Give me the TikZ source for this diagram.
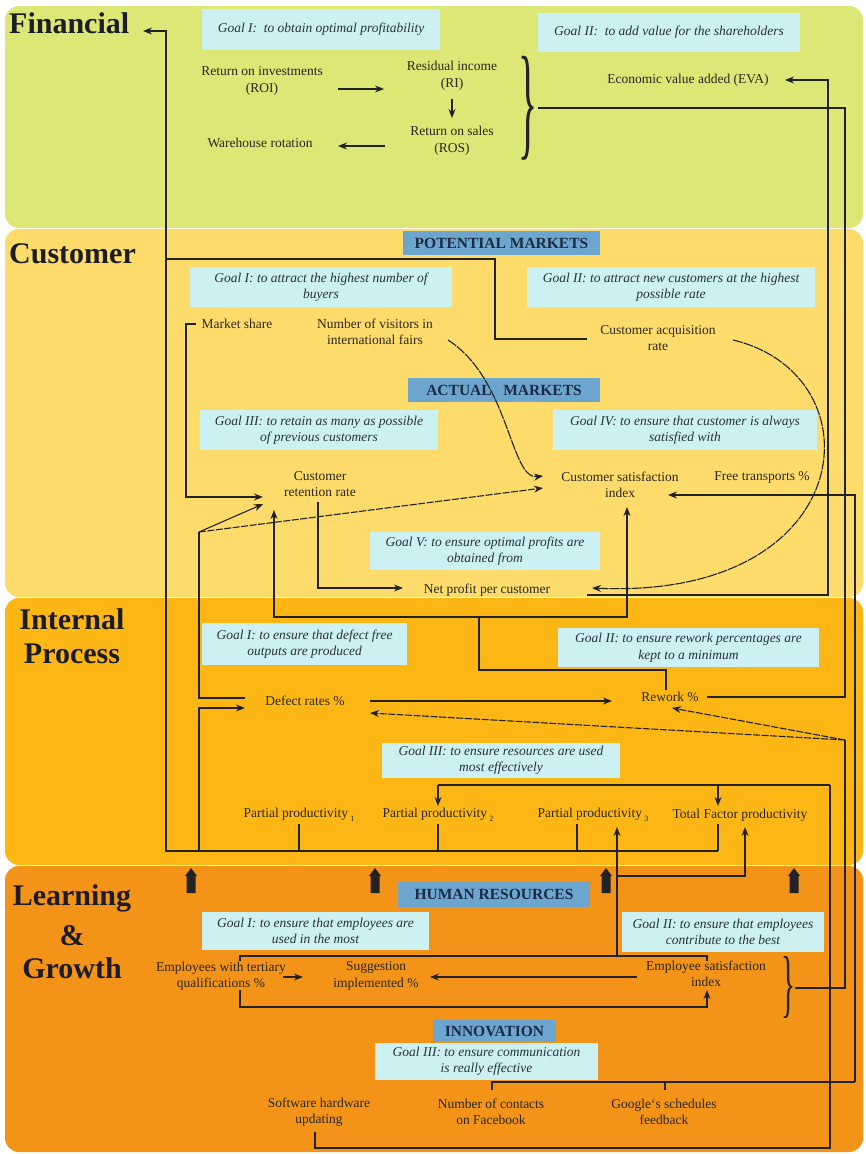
\documentclass[tikz,border=0pt]{standalone}
\usepackage{fontspec}
\usepackage{graphicx}
\setmainfont{Liberation Serif}
\usetikzlibrary{arrows.meta}
\definecolor{finc}{HTML}{DCE775}
\definecolor{custc}{HTML}{FDDC6B}
\definecolor{intc}{HTML}{FDB714}
\definecolor{learnc}{HTML}{F39419}
\definecolor{goalc}{HTML}{CDF0F2}
\definecolor{goaltc}{HTML}{26323A}
\definecolor{bandc}{HTML}{6CA6CF}
\definecolor{bandtc}{HTML}{1D2B42}
\definecolor{linec}{HTML}{222222}
\definecolor{txtc}{HTML}{2A2620}
\definecolor{ttlc}{HTML}{1C1C24}
\begin{document}
\begin{tikzpicture}[x=1pt,y=-1pt,
  lbl/.style={font=\fontsize{13.5}{16.5}\selectfont, text=txtc, align=center, inner sep=0pt},
  goal/.style={fill=goalc, font=\fontsize{13.5}{16.5}\selectfont\itshape, text=goaltc, align=center, inner sep=0pt},
  band/.style={fill=bandc, font=\fontsize{15.5}{18}\selectfont\bfseries, text=bandtc, inner sep=0pt},
  ttl/.style={font=\fontsize{30}{34}\selectfont\bfseries, text=ttlc, inner sep=0pt},
  ln/.style={draw=linec, line width=1.1pt},
  arr/.style={ln, -{Stealth[length=9pt,width=7pt]}},
  dsh/.style={arr, dash pattern=on 7pt off 1.5pt},
  crv/.style={arr, dash pattern=on 10pt off 1pt},
  brcglyph/.style={text=linec, inner sep=0pt},
  upblock/.pic={\fill[linec] (-4.5,25) -- (-4.5,8) -- (-6,8) -- (0,0) -- (6,8) -- (4.5,8) -- (4.5,25) -- cycle;}
]
\useasboundingbox (0,0) rectangle (865,1154);
\fill[white] (0,0) rectangle (865,1154);

% ---- perspective panels
\fill[finc, rounded corners=14pt] (5,6) rectangle (863,228);
\fill[custc, rounded corners=14pt] (5,229) rectangle (863,597);
\fill[intc, rounded corners=14pt] (5,598) rectangle (863,865);
\fill[learnc, rounded corners=14pt] (5,866) rectangle (863,1152);

% ---- panel titles
\node[ttl, anchor=base west] (tfin) at (9,33) {Financial};
\node[ttl, anchor=base west] (tcus) at (9,263) {Customer};
\node[ttl, anchor=base] (tint1) at (72,629) {Internal};
\node[ttl, anchor=base] (tint2) at (72,663) {Process};
\node[ttl, anchor=base] (tlg1) at (72,905) {Learning};
\node[ttl, anchor=base] (tlg2) at (72,945) {\&};
\node[ttl, anchor=base] (tlg3) at (72,978) {Growth};

% ---- goal boxes and section bands
\node[goal, minimum width=238pt, minimum height=41pt] (fg1) at (321,29.5) {Goal I:\ \ to obtain optimal profitability};
\node[goal, minimum width=262pt, minimum height=39pt] (fg2) at (669,32.5) {Goal II:\ \ to add value for the shareholders};

\node[band, minimum width=197pt, minimum height=24pt] (potm) at (501.5,243) {POTENTIAL MARKETS};
\node[goal, minimum width=262pt, minimum height=40pt] (cg1) at (321,287) {Goal I: to attract the highest number of\\buyers};
\node[goal, minimum width=288pt, minimum height=40pt] (cg2) at (671,287) {Goal II: to attract new customers at the highest\\possible rate};
\node[band, minimum width=192pt, minimum height=24pt] (actm) at (504,390) {ACTUAL\ \ \ MARKETS};
\node[goal, minimum width=238pt, minimum height=40pt] (cg3) at (319,430) {Goal III: to retain as many as possible\\of previous customers};
\node[goal, minimum width=264pt, minimum height=40pt] (cg4) at (685,430) {Goal IV: to ensure that customer is always\\satisfied with};
\node[goal, minimum width=230pt, minimum height=38pt] (cg5) at (485,551) {Goal V: to ensure optimal profits are\\obtained from};

\node[goal, minimum width=205pt, minimum height=42pt] (ig1) at (304.5,644) {Goal I: to ensure that defect free\\outputs are produced};
\node[goal, minimum width=261pt, minimum height=39pt] (ig2) at (688.5,647.5) {Goal II: to ensure rework percentages are\\kept to a minimum};
\node[goal, minimum width=238pt, minimum height=35pt] (ig3) at (501,760.5) {Goal III: to ensure resources are used\\most effectively};

\node[band, minimum width=192pt, minimum height=25pt] (hres) at (494,894.5) {HUMAN RESOURCES};
\node[goal, minimum width=227pt, minimum height=38pt] (lg1) at (315.5,931) {Goal I: to ensure that employees are\\used in the most};
\node[goal, minimum width=202pt, minimum height=40pt] (lg2) at (723,932) {Goal II: to ensure that employees\\contribute to the best};
\node[band, minimum width=123pt, minimum height=22pt] (innov) at (494.5,1031) {INNOVATION};
\node[goal, minimum width=223pt, minimum height=37pt] (lg3) at (486.5,1061.5) {Goal III: to ensure communication\\is really effective};

% ---- measures
\node[lbl] (roi) at (262,81) {Return on investments\\(ROI)};
\node[lbl] (ri) at (452,76) {Residual income\\(RI)};
\node[lbl] (ros) at (452,141) {Return on sales\\(ROS)};
\node[lbl] (wh) at (260,143) {Warehouse rotation};
\node[lbl] (eva) at (688,80) {Economic value added (EVA)};

\node[lbl] (msh) at (237,324) {Market share};
\node[lbl] (nvis) at (375,332) {Number of visitors in\\international fairs};
\node[lbl] (cacq) at (658,338) {Customer acquisition\\rate};
\node[lbl] (cret) at (320,484) {Customer\\retention rate};
\node[lbl] (csat) at (620,485) {Customer satisfaction\\index};
\node[lbl] (ftr) at (762,477) {Free transports \%};
\node[lbl] (npc) at (487,590) {Net profit per customer};

\node[lbl] (dr) at (305,701) {Defect rates \%};
\node[lbl] (rw) at (670,697) {Rework \%};
\node[lbl] (pp1) at (299,815) {Partial productivity\,\raisebox{-4pt}{\fontsize{8}{8}\selectfont 1}};
\node[lbl] (pp2) at (438,815) {Partial productivity\,\raisebox{-4pt}{\fontsize{8}{8}\selectfont 2}};
\node[lbl] (pp3) at (593,815) {Partial productivity\,\raisebox{-4pt}{\fontsize{8}{8}\selectfont 3}};
\node[lbl] (tfp) at (740,815) {Total Factor productivity};

\node[lbl] (ete) at (221,976) {Employees with tertiary\\qualifications \%};
\node[lbl] (sug) at (376,976) {Suggestion\\implemented \%};
\node[lbl] (esi) at (706,974) {Employee satisfaction\\index};
\node[lbl] (shu) at (319,1112) {Software hardware\\updating};
\node[lbl] (nfb) at (491,1112) {Number of contacts\\on Facebook};
\node[lbl] (ggl) at (664,1112) {Google`s schedules\\feedback};

% ---- grouping braces
\node[brcglyph] (fbrace) at (528,108) {\resizebox*{19pt}{104pt}{\}}};
\node[brcglyph] (ebrace) at (788,988) {\resizebox*{14pt}{62pt}{\}}};

% ---- connector end points
\coordinate (finIn) at (143,31);
\coordinate (busR) at (718,851);
\coordinate (roiR) at (338,89);  \coordinate (riL) at (384,89);
\coordinate (riB) at (452,99);   \coordinate (rosT) at (452,118);
\coordinate (rosL) at (385,146); \coordinate (whR) at (338,146);
\coordinate (fbrTip) at (fbrace.east);
\coordinate (rwR) at (707,697);
\coordinate (npcR) at (587,595); \coordinate (evaR) at (785,80);
\coordinate (cacqL) at (587,339);
\coordinate (mshL) at (196,324); \coordinate (cretL) at (263,497);
\coordinate (cretLu) at (263,504);
\coordinate (nvisR) at (448,340); \coordinate (csatL) at (543,476);
\coordinate (csatLd) at (543,488);
\coordinate (cacqR) at (733,340); \coordinate (npcRa) at (592,588);
\coordinate (cretB) at (318,502); \coordinate (npcL) at (403,588);
\coordinate (fork) at (199,532);
\coordinate (drL) at (245,698);  \coordinate (drLb) at (245,708);
\coordinate (csatR) at (668,495);
\coordinate (rwT) at (666,690);
\coordinate (cretU) at (274,510); \coordinate (csatU) at (627,507);
\coordinate (drR) at (370,701);  \coordinate (rwL) at (612,701);
\coordinate (dj) at (845,740);
\coordinate (rwLd) at (672,708); \coordinate (drRd) at (370,713);
\coordinate (ebrTip) at (ebrace.east);
\coordinate (shuB) at (315,1132);
\coordinate (pp2T) at (438,806); \coordinate (tfpT) at (718,806);
\coordinate (pp3B) at (617,827); \coordinate (tfpB) at (745,827);
\coordinate (eteT) at (240,961); \coordinate (esiT) at (707,961);
\coordinate (eteR) at (283,977); \coordinate (sugL0) at (303,977);
\coordinate (esiL) at (637,977); \coordinate (sugR) at (430,977);
\coordinate (eteB) at (240,990); \coordinate (esiB) at (707,990);
\coordinate (nfbT) at (492,1090); \coordinate (gglT) at (665,1090);

% ---- Financial perspective
\draw[arr] (busR) -- (166,851) -- (166,31) -- (finIn);
\draw[arr] (roiR) -- (riL);
\draw[arr] (riB) -- (rosT);
\draw[arr] (rosL) -- (whR);
\draw[ln] (fbrTip) -- (845,108) -- (845,697) -- (rwR);
\draw[arr] (npcR) -- (828,595) -- (828,80) -- (evaR);

% ---- Customer perspective
\draw[ln] (cacqL) -- (495,339) -- (495,259) -- (166,259);
\draw[arr] (mshL) -- (186,324) -- (186,497) -- (cretL);
\draw[crv] (nvisR) .. controls (510,380) and (510,480) .. (csatL);
\draw[crv] (cacqR) .. controls (880,375) and (860,600) .. (npcRa);
\draw[arr] (cretB) -- (318,588) -- (npcL);
\draw[ln] (drL) -- (199,698) -- (fork);
\draw[arr] (fork) -- (cretLu);
\draw[dsh] (fork) -- (csatLd);
\draw[arr] (855,1082) -- (855,495) -- (csatR);
\draw[ln] (rwT) -- (666,670) -- (479,670) -- (479,617);
\draw[arr] (479,617) -- (274,617) -- (cretU);
\draw[arr] (479,617) -- (627,617) -- (csatU);

% ---- Internal process perspective
\draw[arr] (drR) -- (rwL);
\draw[dsh] (dj) -- (rwLd);
\draw[dsh] (dj) -- (drRd);
\draw[arr] (199,851) -- (199,708) -- (drLb);
\draw[ln] (299,824) -- (299,851);
\draw[ln] (438,824) -- (438,851);
\draw[ln] (577,824) -- (577,851);
\draw[ln] (718,824) -- (busR);
\draw[ln] (830,785) -- (438,785);
\draw[arr] (438,785) -- (pp2T);
\draw[arr] (718,785) -- (tfpT);

% ---- Learning & growth perspective
\pic at (191,868) {upblock};
\pic at (375,868) {upblock};
\pic at (606,868) {upblock};
\pic at (794,868) {upblock};
\draw[ln] (ebrTip) -- (845,988) -- (dj);
\draw[arr] (617,956) -- (pp3B);
\draw[arr] (617,876) -- (745,876) -- (tfpB);
\draw[ln] (eteT) -- (240,956) -- (707,956) -- (esiT);
\draw[arr] (eteR) -- (sugL0);
\draw[arr] (esiL) -- (sugR);
\draw[arr] (eteB) -- (240,1007) -- (707,1007) -- (esiB);
\draw[ln] (shuB) -- (315,1148) -- (830,1148) -- (830,785);
\draw[ln] (nfbT) -- (492,1082) -- (855,1082);
\draw[ln] (gglT) -- (665,1082);
\end{tikzpicture}
\end{document}
